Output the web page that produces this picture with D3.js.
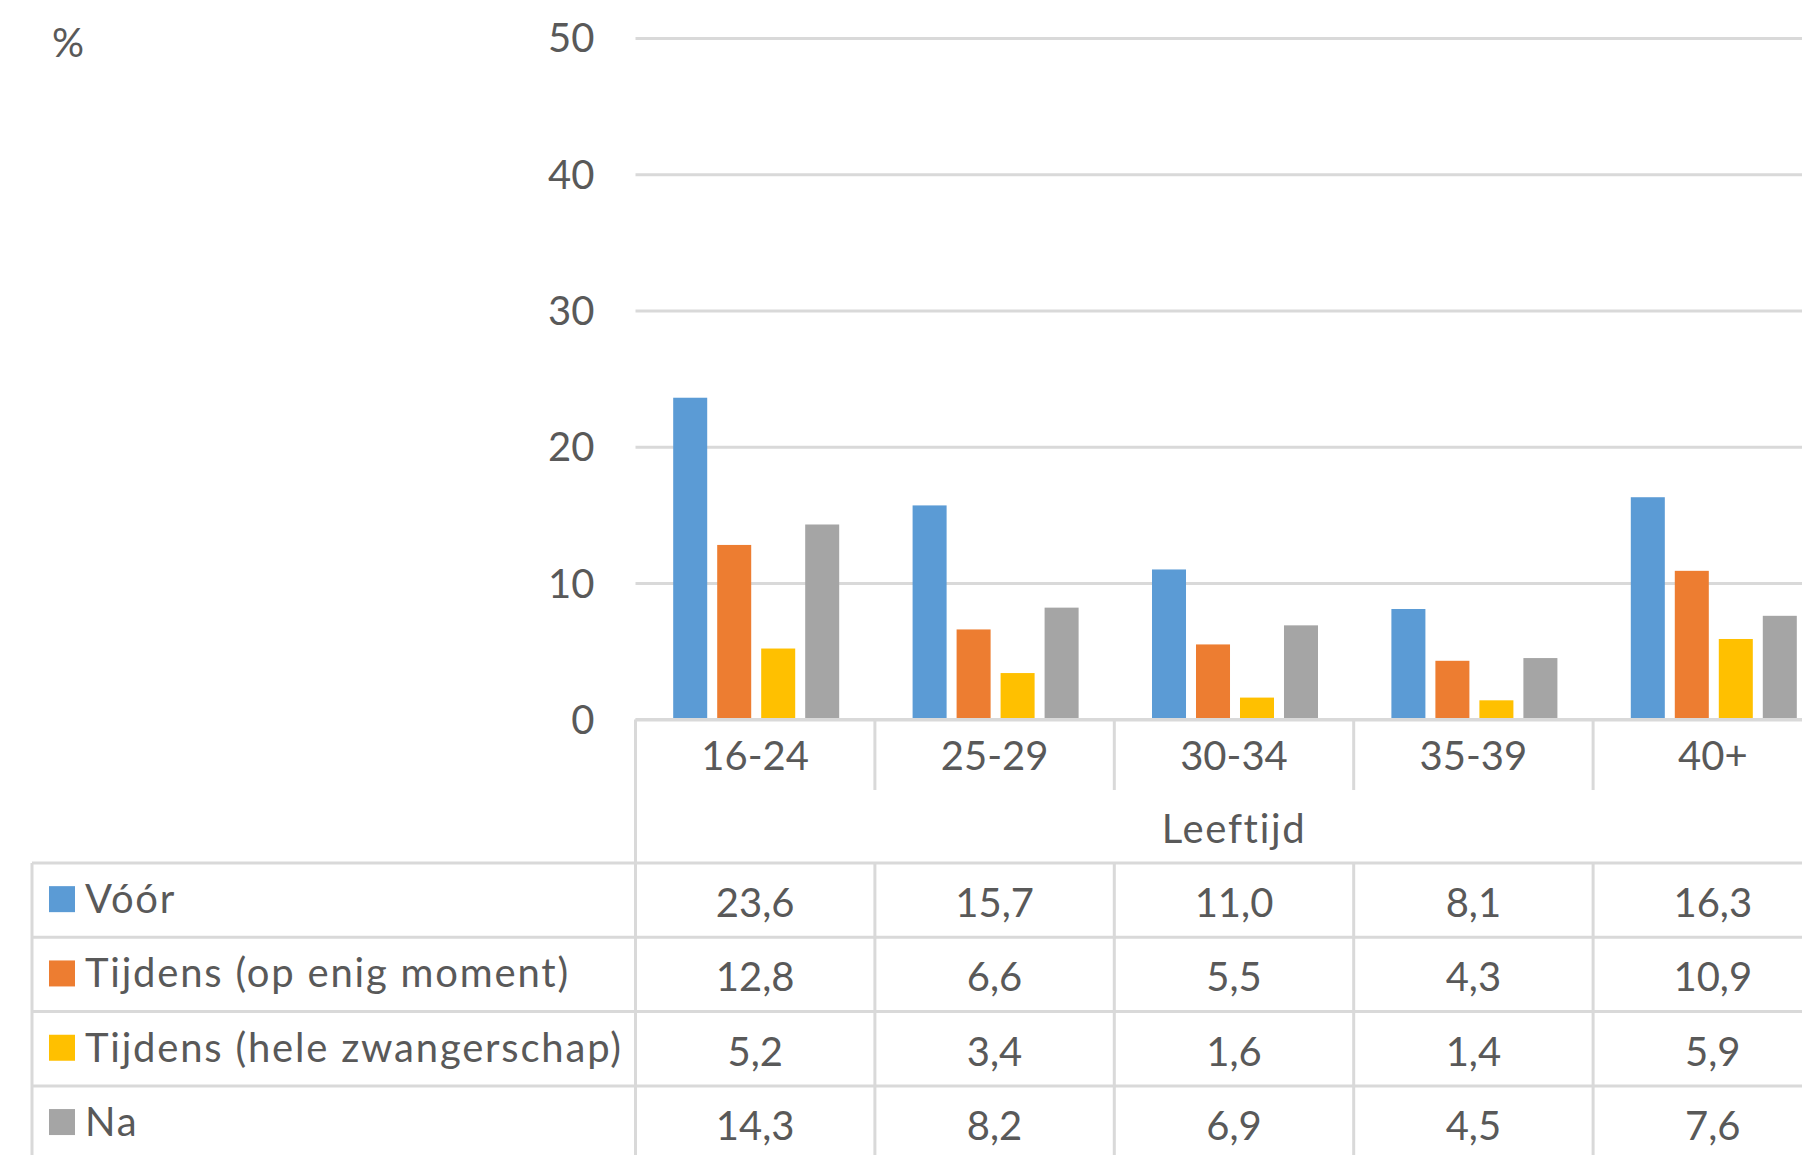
<!DOCTYPE html>
<html><head><meta charset="utf-8">
<script src="https://cdn.jsdelivr.net/npm/d3@7/dist/d3.min.js"></script>
<style>html,body{margin:0;padding:0;background:#fff;overflow:hidden}</style>
</head><body>
<script>
const categories = ["16-24","25-29","30-34","35-39","40+"];
const seriesNames = ["Vóór","Tijdens (op enig moment)","Tijdens (hele zwangerschap)","Na"];
const voor = [23.6,15.7,11.0,8.1,16.3];
const tijdensMoment = [12.8,6.6,5.5,4.3,10.9];
const tijdensHele = [5.2,3.4,1.6,1.4,5.9];
const na = [14.3,8.2,6.9,4.5,7.6];
const yTicks = [0,10,20,30,40,50];
const colors = ["#5B9BD5","#ED7D31","#FFC000","#A5A5A5"];
const seriesValues = [voor, tijdensMoment, tijdensHele, na];

const W = 1802, H = 1155;
const font = "Lato, 'Open Sans', sans-serif";
const txt = "#595959", grid = "#D9D9D9";
const plotLeft = 635.5, catW = 239.4, y0 = 719.4, y50 = 37.9;
const tableTop = 863, rowH = 74.3, tableLeft = 32;

const svg = d3.select("body").append("svg").attr("width", W).attr("height", H)
  .style("font-family", font);

const x = d3.scaleBand().domain(categories).range([plotLeft, plotLeft + catW*categories.length]).padding(0);
const xs = d3.scaleBand().domain(seriesNames).range([0, x.bandwidth()]).paddingInner(0.227).paddingOuter(0.834);
const y = d3.scaleLinear().domain([0,50]).range([y0, y50]);

// gridlines
const yAxis = d3.axisLeft(y).tickValues(yTicks).tickSize(-(W - plotLeft + 50)).tickPadding(41).tickFormat(d3.format("d"));
const ga = svg.append("g").attr("transform", `translate(${plotLeft},0)`).call(yAxis);
ga.select(".domain").remove();
ga.selectAll("line").attr("stroke", grid).attr("stroke-width", 3);
ga.selectAll("text").attr("fill", txt).style("font-size", "40px").style("font-family", font).attr("dy", "0.35em");

// bars
seriesNames.forEach((s, si) => {
  svg.append("g").selectAll("rect").data(categories).join("rect")
    .attr("x", c => x(c) + xs(s) + 1)
    .attr("width", xs.bandwidth())
    .attr("y", (c, i) => y(seriesValues[si][i]))
    .attr("height", (c, i) => y(0) - y(seriesValues[si][i]))
    .attr("fill", colors[si]);
});

// x axis line
svg.append("line").attr("x1", plotLeft).attr("x2", W + 50).attr("y1", y0).attr("y2", y0)
  .attr("stroke", grid).attr("stroke-width", 3);

// category separators and labels
const catRowBottom = 790;
const bounds = categories.map(c => x(c)).concat([x(categories[categories.length-1]) + x.bandwidth()]);
svg.append("g").selectAll("line").data(bounds.slice(1)).join("line")
  .attr("x1", d => d).attr("x2", d => d).attr("y1", y0).attr("y2", catRowBottom)
  .attr("stroke", grid).attr("stroke-width", 3);
svg.append("g").selectAll("text").data(categories).join("text")
  .attr("x", c => x(c) + x.bandwidth()/2).attr("y", 755)
  .attr("text-anchor", "middle").attr("dominant-baseline", "central")
  .attr("fill", txt).style("font-size", "40px").text(c => c);

// axis title
svg.append("text").attr("x", plotLeft + catW*categories.length/2).attr("y", 828)
  .attr("text-anchor", "middle").attr("dominant-baseline", "central")
  .attr("fill", txt).style("font-size", "40px").style("letter-spacing", "1.7px").text("Leeftijd");

// % label
svg.append("text").attr("x", 52).attr("y", 42).attr("dominant-baseline", "central")
  .attr("fill", txt).style("font-size", "40px").text("%");

// left vertical plot line
svg.append("line").attr("x1", plotLeft).attr("x2", plotLeft).attr("y1", y0).attr("y2", H + 10)
  .attr("stroke", grid).attr("stroke-width", 3);

// data table
const rows = seriesNames.map((s, i) => ({name: s, color: colors[i], vals: seriesValues[i]}));
const tg = svg.append("g");
rows.forEach((r, i) => {
  tg.append("line").attr("x1", tableLeft).attr("x2", W + 50)
    .attr("y1", tableTop + i*rowH).attr("y2", tableTop + i*rowH)
    .attr("stroke", grid).attr("stroke-width", 3);
});
tg.append("line").attr("x1", tableLeft).attr("x2", tableLeft).attr("y1", tableTop).attr("y2", H + 10)
  .attr("stroke", grid).attr("stroke-width", 3);
tg.selectAll("line.sep").data(bounds.slice(1)).join("line").attr("class","sep")
  .attr("x1", d => d).attr("x2", d => d).attr("y1", tableTop).attr("y2", H + 10)
  .attr("stroke", grid).attr("stroke-width", 3);
rows.forEach((r, i) => {
  const cy = tableTop + i*rowH + rowH/2 - 1;
  tg.append("rect").attr("x", 49).attr("y", cy - 13).attr("width", 26).attr("height", 26).attr("fill", r.color);
  tg.append("text").attr("x", 85).attr("y", cy - 1).attr("dominant-baseline", "central")
    .attr("fill", txt).style("font-size", "40px").style("letter-spacing", "1.8px").text(r.name);
  tg.selectAll(null).data(categories).join("text")
    .attr("x", c => x(c) + x.bandwidth()/2).attr("y", cy + 3)
    .attr("text-anchor", "middle").attr("dominant-baseline", "central")
    .attr("fill", txt).style("font-size", "40px")
    .text((c, j) => d3.format(".1f")(r.vals[j]).replace(".", ","));
});
</script>
</body></html>
